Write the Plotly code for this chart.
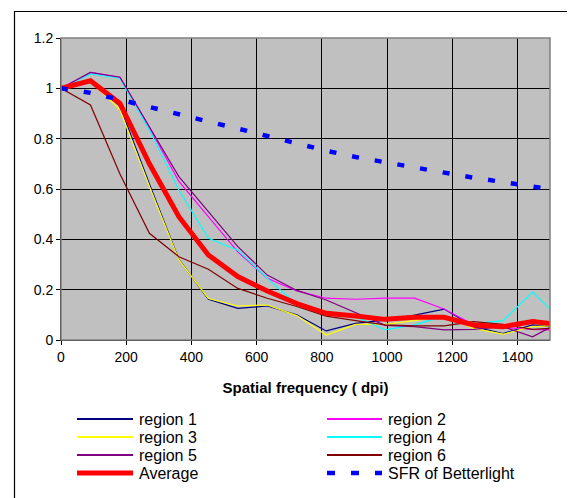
import plotly.graph_objects as go

# ---- data ----
freq = [0, 90.4, 180.8, 271.2, 361.6, 452, 542.4, 632.8, 723.2, 813.6,
        904, 994.4, 1084.8, 1175.2, 1265.6, 1356, 1446.4, 1536.8]

region1 = [1.0, 1.03, 0.93, 0.62, 0.32, 0.162, 0.126, 0.135, 0.10, 0.036,
           0.066, 0.079, 0.099, 0.123, 0.053, 0.026, 0.06, 0.048]
region2 = [1.0, 1.063, 1.044, 0.845, 0.63, 0.49, 0.35, 0.245, 0.195, 0.166,
           0.162, 0.166, 0.166, 0.123, 0.06, 0.049, 0.042, 0.039]
region3 = [1.0, 1.03, 0.915, 0.61, 0.318, 0.165, 0.135, 0.139, 0.097, 0.02,
           0.062, 0.062, 0.077, 0.095, 0.046, 0.023, 0.053, 0.058]
region4 = [1.0, 1.057, 1.04, 0.834, 0.596, 0.404, 0.357, 0.245, 0.142, 0.109,
           0.093, 0.04, 0.06, 0.095, 0.064, 0.077, 0.19, 0.077]
region5 = [1.0, 1.063, 1.044, 0.848, 0.649, 0.51, 0.371, 0.258, 0.197, 0.159,
           0.109, 0.058, 0.053, 0.04, 0.042, 0.053, 0.013, 0.075]
region6 = [1.0, 0.934, 0.66, 0.424, 0.331, 0.281, 0.205, 0.166, 0.133, 0.095,
           0.077, 0.06, 0.056, 0.056, 0.073, 0.062, 0.042, 0.049]
average = [1.0, 1.03, 0.94, 0.70, 0.49, 0.338, 0.252, 0.195, 0.145, 0.106,
           0.095, 0.082, 0.09, 0.09, 0.06, 0.053, 0.073, 0.061]
sfr_betterlight = [1.0, 0.982, 0.955, 0.925, 0.897, 0.868, 0.84, 0.81, 0.78, 0.752,
                   0.727, 0.705, 0.685, 0.665, 0.645, 0.627, 0.61, 0.592]

x_ticks = [0, 200, 400, 600, 800, 1000, 1200, 1400]
y_ticks = [0, 0.2, 0.4, 0.6, 0.8, 1.0, 1.2]

series = [
    ("region 1", region1, "#000080", 1.2, "solid"),
    ("region 2", region2, "#FF00FF", 1.2, "solid"),
    ("region 3", region3, "#FFFF00", 1.2, "solid"),
    ("region 4", region4, "#00FFFF", 1.2, "solid"),
    ("region 5", region5, "#800080", 1.2, "solid"),
    ("region 6", region6, "#800000", 1.2, "solid"),
    ("Average", average, "#FF0000", 5, "solid"),
    ("SFR of Betterlight", sfr_betterlight, "#0000FF", 4.5, "7px,16px"),
]

FONT = "Liberation Sans, Arial, sans-serif"

fig = go.Figure()
for name, vals, color, width, dash in series:
    fig.add_trace(go.Scatter(x=freq, y=vals, mode="lines", name=name,
                             line=dict(color=color, width=width, dash=dash),
                             showlegend=False))

# page offset of the figure (browser body margin)
OFF = 8
FW, FH = 575, 498
# plot-area geometry in page pixels
L, R, T, B = 61, 550, 38, 340
W, H = R - L, B - T

def px(x):
    return (x - L) / W

def py(y):
    return (B - y) / H

shapes = []
# grey frame around plot area
shapes.append(dict(type="rect", xref="x domain", yref="y domain", x0=0, x1=1, y0=0, y1=1,
                   line=dict(color="#808080", width=1.5), layer="above"))
# outer chart border
shapes.append(dict(type="rect", xref="paper", yref="paper",
                   x0=px(14.5), x1=px(600), y0=py(530), y1=py(11.5),
                   line=dict(color="black", width=1.2)))

# manual legend (two columns)
rows = [419, 437, 455, 473]
cols = [(77, 133, 137), (327, 382, 386)]
annotations = []
for i, (name, vals, color, width, dash) in enumerate(series):
    r, c = divmod(i, 2)
    x0, x1, xt = cols[c]
    yy = py(rows[r])
    lw = 2 if width < 2 else width
    shapes.append(dict(type="line", xref="paper", yref="paper",
                       x0=px(x0), x1=px(x1), y0=yy, y1=yy,
                       line=dict(color=color, width=lw,
                                 dash="8px,16px" if dash != "solid" else "solid")))
    annotations.append(dict(xref="paper", yref="paper", x=px(xt), y=yy,
                            xanchor="left", yanchor="middle", showarrow=False,
                            text=name, font=dict(family=FONT, size=16, color="black")))

fig.update_layout(
    width=FW, height=FH,
    margin=dict(l=L - OFF, r=FW - (R - OFF), t=T - OFF, b=FH - (B - OFF)),
    paper_bgcolor="white",
    plot_bgcolor="#C0C0C0",
    font=dict(family=FONT, size=14, color="black"),
    shapes=shapes,
    annotations=annotations,
    showlegend=False,
)
fig.update_xaxes(range=[0, 1500], tickvals=x_ticks, ticks="outside", ticklen=4,
                 tickcolor="black", showline=True, linecolor="black", linewidth=1,
                 showgrid=True, gridcolor="black", gridwidth=1, zeroline=False,
                 tickfont=dict(size=14),
                 title=dict(text="<b>Spatial frequency ( dpi)</b>",
                            font=dict(size=15), standoff=18))
fig.update_yaxes(range=[0, 1.2], tickvals=y_ticks, ticks="outside", ticklen=4,
                 tickcolor="black", showline=True, linecolor="black", linewidth=1,
                 showgrid=True, gridcolor="black", gridwidth=1, zeroline=False,
                 tickfont=dict(size=14))

fig.write_html("out.html")
